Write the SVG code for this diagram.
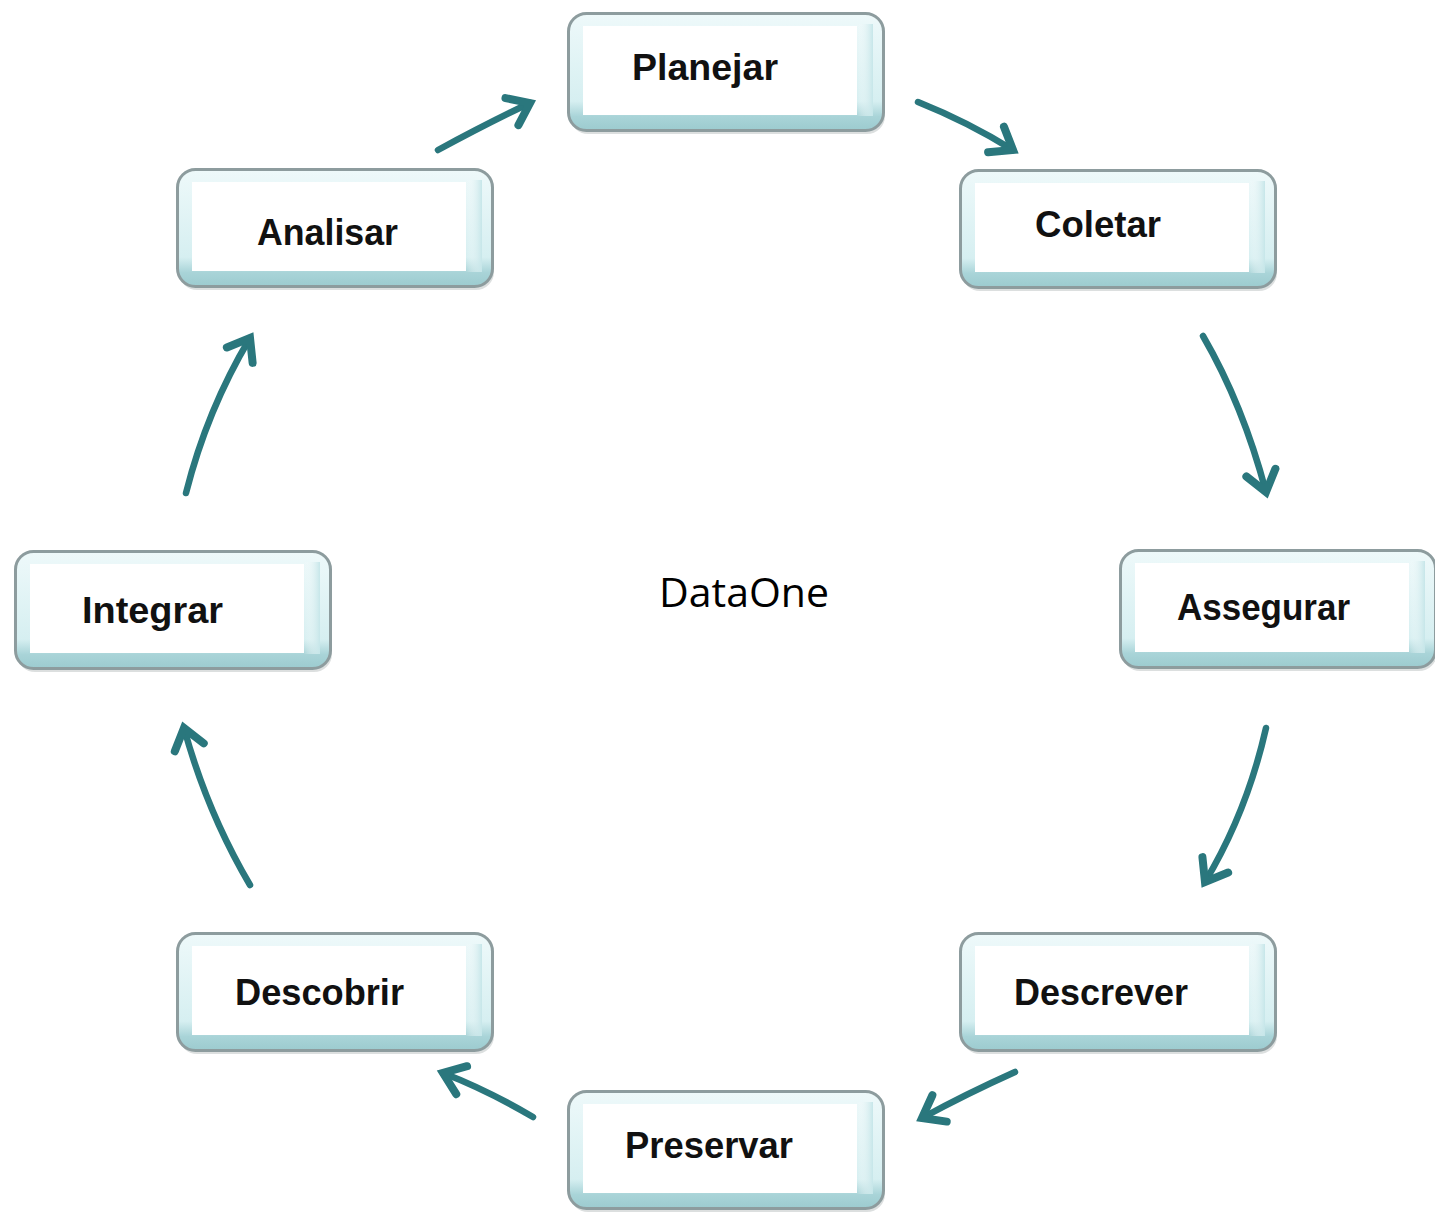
<svg xmlns="http://www.w3.org/2000/svg" xmlns:xlink="http://www.w3.org/1999/xlink" width="1435" height="1215" viewBox="0 0 1435 1215">
<style>
.lbl{font-family:"Liberation Sans",Arial,sans-serif;font-weight:bold;font-size:36px;fill:#111}
.center{font-family:"Open Sans","Noto Sans",sans-serif;font-size:41px;fill:#000}
.arr{fill:none;stroke:#2a777d;stroke-width:6.5;stroke-linecap:round}
</style>
<defs>
<linearGradient id="frame" x1="0" y1="0" x2="0" y2="1">
<stop offset="0" stop-color="#eef9fa"/>
<stop offset="0.75" stop-color="#d6eff1"/>
<stop offset="0.88" stop-color="#a9d4d8"/>
<stop offset="1" stop-color="#9ccbcf"/>
</linearGradient>
<linearGradient id="side" x1="0" y1="0" x2="1" y2="0">
<stop offset="0" stop-color="#ffffff" stop-opacity="0"/>
<stop offset="1" stop-color="#c6e6e9"/>
</linearGradient>
<marker id="head" markerUnits="userSpaceOnUse" viewBox="-30 -22 36 44" refX="0" refY="0" markerWidth="36" markerHeight="44" orient="auto" overflow="visible">
<path d="M-20,-15 L0,0 L-20,15" fill="none" stroke="#2a777d" stroke-width="8" stroke-linecap="round" stroke-linejoin="miter"/>
</marker>
<g id="box">
<rect x="3" y="4" width="315" height="118" rx="18" fill="#c4c9ca" opacity="0.6"/>
<rect x="1.5" y="1.5" width="315" height="117" rx="18" fill="url(#frame)" stroke="#8d9c9e" stroke-width="3"/>
<rect x="290" y="12" width="16" height="92" fill="url(#side)"/>
<rect x="16" y="14" width="274" height="89" fill="#ffffff"/>
</g>
</defs>
<rect width="1435" height="1215" fill="#ffffff"/>
<g id="connectors">
<path class="arr" d="M438,150 Q486,124 530,103" marker-end="url(#head)"/>
<path class="arr" d="M918,102 Q968,122 1013,150" marker-end="url(#head)"/>
<path class="arr" d="M1203,336 Q1243,405 1266,492" marker-end="url(#head)"/>
<path class="arr" d="M1266,728 Q1247,812 1205,882" marker-end="url(#head)"/>
<path class="arr" d="M1015,1072 Q966,1094 922,1118" marker-end="url(#head)"/>
<path class="arr" d="M533,1117 Q487,1090 443,1073" marker-end="url(#head)"/>
<path class="arr" d="M250,885 Q207,812 184,728" marker-end="url(#head)"/>
<path class="arr" d="M186,493 Q207,410 250,338" marker-end="url(#head)"/>
</g>
<g id="planejar" transform="translate(567,12)"><use xlink:href="#box"/><text class="lbl" x="65" y="68" textLength="146" lengthAdjust="spacingAndGlyphs">Planejar</text></g>
<g id="coletar" transform="translate(959,169)"><use xlink:href="#box"/><text class="lbl" x="76" y="68" textLength="126" lengthAdjust="spacingAndGlyphs">Coletar</text></g>
<g id="analisar" transform="translate(176,168)"><use xlink:href="#box"/><text class="lbl" x="81" y="77" textLength="141" lengthAdjust="spacingAndGlyphs">Analisar</text></g>
<g id="assegurar" transform="translate(1119,549)"><use xlink:href="#box"/><text class="lbl" x="58" y="71" textLength="173" lengthAdjust="spacingAndGlyphs">Assegurar</text></g>
<g id="integrar" transform="translate(14,550)"><use xlink:href="#box"/><text class="lbl" x="68" y="73" textLength="141" lengthAdjust="spacingAndGlyphs">Integrar</text></g>
<g id="descrever" transform="translate(959,932)"><use xlink:href="#box"/><text class="lbl" x="55" y="73" textLength="174" lengthAdjust="spacingAndGlyphs">Descrever</text></g>
<g id="descobrir" transform="translate(176,932)"><use xlink:href="#box"/><text class="lbl" x="59" y="73" textLength="169" lengthAdjust="spacingAndGlyphs">Descobrir</text></g>
<g id="preservar" transform="translate(567,1090)"><use xlink:href="#box"/><text class="lbl" x="58" y="68" textLength="168" lengthAdjust="spacingAndGlyphs">Preservar</text></g>
<text class="center" x="659" y="607" textLength="170" lengthAdjust="spacingAndGlyphs">DataOne</text>
</svg>
